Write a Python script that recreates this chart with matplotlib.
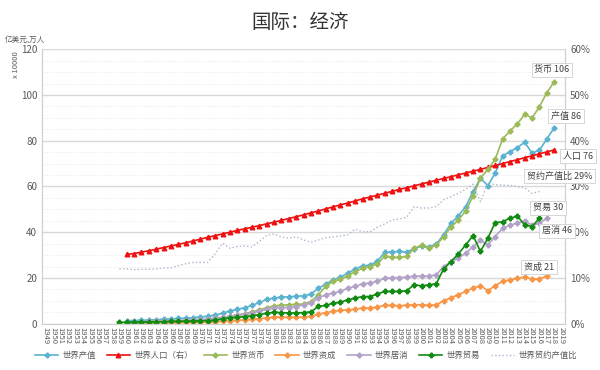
import numpy as np
import matplotlib
matplotlib.use("Agg")
import matplotlib.pyplot as plt

plt.rcParams['font.family'] = ['Noto Sans CJK SC', 'DejaVu Sans']

years = list(range(1949, 2020))

# 世界人口 1960-2018
pop = [30.3, 30.7, 31.3, 31.9, 32.6, 33.3, 34.0, 34.7, 35.4, 36.2,
       37.0, 37.8, 38.5, 39.3, 40.0, 40.8, 41.5, 42.2, 42.9, 43.7,
       44.4, 45.2, 46.0, 46.8, 47.6, 48.5, 49.3, 50.2, 51.1, 52.0,
       52.8, 53.7, 54.6, 55.4, 56.2, 57.0, 57.9, 58.7, 59.5, 60.3,
       61.1, 61.9, 62.7, 63.5, 64.3, 65.1, 65.9, 66.7, 67.5, 68.3,
       69.2, 70.0, 70.9, 71.7, 72.6, 73.4, 74.3, 75.1, 76.0]
# 世界产值 1960-2018
gdp = [1.4, 1.4, 1.5, 1.6, 1.8, 2.0, 2.1, 2.3, 2.4, 2.7,
       3.0, 3.3, 3.8, 4.6, 5.6, 6.3, 7.0, 8.0, 9.3, 10.6,
       11.3, 11.6, 11.8, 12.0, 12.2, 13.0, 15.5, 17.3, 19.2, 20.3,
       22.2, 23.9, 25.3, 25.6, 27.3, 31.2, 31.5, 31.6, 31.3, 32.8,
       34.0, 33.6, 34.8, 38.9, 43.9, 47.2, 51.2, 57.8, 63.6, 60.4,
       65.8, 73.3, 75.2, 77.0, 79.3, 74.6, 75.9, 80.7, 85.6]
# 世界货币 1960-2018
money = [0.7, 0.75, 0.8, 0.9, 1.0, 1.1, 1.2, 1.3, 1.4, 1.5,
         1.7, 1.9, 2.3, 2.8, 3.3, 3.9, 4.4, 5.1, 6.1, 7.1,
         7.8, 8.1, 8.3, 8.5, 8.6, 9.7, 12.7, 16.3, 18.5, 19.5,
         20.9, 22.8, 24.3, 25.0, 26.2, 29.4, 29.0, 29.0, 29.4, 33.0,
         34.3, 33.0, 34.3, 38.1, 42.2, 45.4, 49.3, 55.9, 63.6, 67.5,
         71.9, 80.7, 84.3, 87.3, 91.6, 90.0, 94.8, 101.0, 105.7]
# 世界资成 1960-2017
capital = [0.3, 0.3, 0.35, 0.4, 0.4, 0.45, 0.5, 0.5, 0.55, 0.6,
           0.7, 0.75, 0.85, 1.1, 1.3, 1.5, 1.7, 1.9, 2.2, 2.6,
           2.8, 2.9, 2.8, 2.8, 2.9, 3.2, 4.2, 4.9, 5.4, 5.8,
           6.1, 6.4, 6.9, 6.9, 7.3, 8.0, 8.0, 7.9, 8.0, 8.3,
           8.3, 8.0, 8.3, 10.0, 11.4, 12.7, 14.1, 15.6, 16.6, 14.5,
           16.6, 18.5, 19.2, 19.9, 20.4, 19.5, 19.5, 20.9]
# 世界居消 1960-2017
consume = [0.8, 0.85, 0.9, 1.0, 1.1, 1.2, 1.3, 1.4, 1.5, 1.6,
           1.8, 2.0, 2.3, 2.8, 3.2, 3.7, 4.1, 4.7, 5.5, 6.3,
           7.0, 7.1, 7.1, 7.5, 8.3, 9.0, 11.2, 12.7, 13.4, 14.1,
           15.6, 16.3, 17.5, 17.8, 18.5, 19.9, 20.2, 20.2, 20.4, 20.8,
           20.8, 20.8, 21.4, 25.0, 27.0, 28.7, 30.8, 33.7, 36.4, 34.5,
           38.1, 41.7, 43.0, 44.1, 44.7, 43.2, 43.9, 46.1]
# 世界贸易 1959-2016
trade = [0.6, 0.6, 0.65, 0.7, 0.75, 0.85, 0.9, 1.0, 1.05, 1.1, 1.2,
         1.3, 1.4, 1.6, 2.1, 2.6, 2.8, 3.1, 3.5, 4.0, 4.6,
         5.0, 4.9, 4.7, 4.7, 4.9, 5.2, 7.6, 8.0, 9.0, 9.4,
         10.5, 11.2, 11.9, 11.9, 13.0, 14.1, 14.1, 14.1, 14.5, 17.0,
         16.6, 17.0, 17.5, 23.9, 27.2, 30.5, 34.5, 38.5, 31.6, 37.4,
         44.2, 44.6, 46.1, 47.1, 43.2, 42.5, 46.1]
# 世界贸约产值比 (%) 1959-2016
ratio = [12.0, 12.0, 11.8, 11.9, 11.9, 12.0, 12.2, 12.2, 12.7, 13.1, 13.4,
         13.4, 13.4, 15.3, 17.6, 16.5, 16.9, 17.0, 16.8, 18.0, 19.3,
         19.6, 19.0, 18.7, 19.0, 18.3, 17.8, 18.3, 18.8, 19.0, 19.2,
         19.4, 20.7, 20.1, 20.1, 21.1, 21.8, 22.7, 22.9, 23.3, 25.6,
         25.3, 25.3, 25.6, 27.1, 27.8, 28.5, 29.4, 30.5, 26.7, 30.7,
         30.4, 30.3, 30.2, 30.0, 29.7, 28.5, 28.9]


def xs(start, vals):
    return [years.index(start + i) for i in range(len(vals))]


fig = plt.figure(figsize=(6, 3.7), dpi=100)
ax = fig.add_axes([0.07, 0.125, 0.872, 0.742])
ax2 = ax.twinx()

c_gdp = '#5BB3D0'
c_pop = '#EE1111'
c_money = '#9BBB59'
c_cap = '#F79646'
c_con = '#B3A2C7'
c_trade = '#118A11'
c_ratio = '#A9B7CC'

ms = 3.3
ax.plot(xs(1960, gdp), gdp, color=c_gdp, marker='P', ms=ms, lw=1.2, label='世界产值')
ax.plot(xs(1960, pop), pop, color=c_pop, marker='^', ms=ms, lw=1.2, label='世界人口（右）')
ax.plot(xs(1960, money), money, color=c_money, marker='P', ms=ms, lw=1.2, label='世界货币')
ax.plot(xs(1960, capital), capital, color=c_cap, marker='P', ms=ms, lw=1.2, label='世界资成')
ax.plot(xs(1960, consume), consume, color=c_con, marker='P', ms=ms, lw=1.2, label='世界居消')
ax.plot(xs(1959, trade), trade, color=c_trade, marker='P', ms=ms, lw=1.2, label='世界贸易')
ax2.plot(xs(1959, ratio), ratio, color=c_ratio, ls=':', lw=1.0, label='世界贸约产值比')

ax.set_xlim(-0.5, len(years) - 0.5)
ax.set_ylim(0, 120)
ax2.set_ylim(0, 60)
ax.set_yticks(range(0, 121, 20))
ax.set_yticks(range(0, 121, 5), minor=True)
ax2.set_yticks(range(0, 61, 10))
ax2.set_yticklabels([f'{v}%' for v in range(0, 61, 10)])
ax.set_xticks(range(len(years)))
ax.set_xticklabels([str(y) for y in years], rotation=-90, fontsize=5.5, color='#595959')
ax.tick_params(axis='y', labelsize=7, colors='#595959', length=0)
ax.tick_params(axis='y', which='minor', length=0)
ax.tick_params(axis='x', length=0, pad=2)
ax2.tick_params(axis='y', labelsize=7, colors='#595959', length=0)
ax.grid(axis='y', which='major', color='#D9D9D9', lw=1.0)
ax.grid(axis='y', which='minor', color='#E4E4E4', lw=0.6, ls=':')
ax.set_axisbelow(True)
for a in (ax, ax2):
    for s in a.spines.values():
        s.set_color('#D0D0D0')
        s.set_linewidth(0.8)
    a.spines['top'].set_visible(False)

fig.text(0.5, 0.94, '国际：经济', ha='center', va='center', fontsize=14, color='#333333')
fig.text(0.008, 0.893, '亿美元,万人', fontsize=5.5, color='#595959', va='center')
fig.text(0.027, 0.825, 'x 10000', fontsize=5.5, color='#595959', rotation=90, ha='center', va='center')

box = dict(boxstyle='square,pad=0.3', fc='white', ec='#D0D0D0', lw=0.6)
notes = [('货币 106', 0.920, 0.811), ('产值 86', 0.943, 0.686), ('人口 76', 0.963, 0.578),
         ('贸约产值比 29%', 0.933, 0.524), ('贸易 30', 0.913, 0.438), ('居消 46', 0.928, 0.376),
         ('资成 21', 0.898, 0.278)]
for t, fx, fy in notes:
    fig.text(fx, fy, t, fontsize=6.5, color='#404040', ha='center', va='center', bbox=box)

h1, l1 = ax.get_legend_handles_labels()
h2, l2 = ax2.get_legend_handles_labels()
fig.legend(h1 + h2, l1 + l2, loc='center', bbox_to_anchor=(0.51, 0.04), ncol=7,
           fontsize=6, frameon=False, handlelength=2.8, columnspacing=1.3,
           handletextpad=0.5, labelcolor='#595959')

fig.savefig('out.png', dpi=100)
